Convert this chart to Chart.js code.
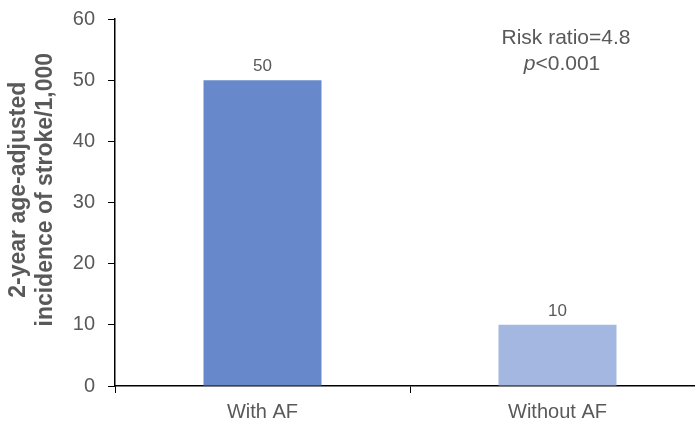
<!DOCTYPE html>
<html>
<head>
<meta charset="utf-8">
<script src="https://cdn.jsdelivr.net/npm/chart.js@4/dist/chart.umd.min.js"></script>
<style>
  html, body { margin: 0; padding: 0; overflow: hidden; background: #fff; }
  #wrap { width: 705px; height: 422px; }
</style>
</head>
<body>
<div id="wrap"><canvas id="strokeChart"></canvas></div>
<script>
var categories = ["With AF", "Without AF"]
var incidence = [50, 10]
var barColors = ["#6789cb", "#a3b7e1"]
var yTicks = [0, 10, 20, 30, 40, 50, 60]
// leading spaces nudge the rotated title up a little, as in the original
var yTitle = ["    2-year age-adjusted", "    incidence of stroke/1,000"]
var noteLines = ["Risk ratio=4.8", "<0.001"]

var gray = "#595959"
var family = "Arial, 'Liberation Sans', sans-serif"

// value labels above bars + risk ratio note
var labelPlugin = {
    id: "labels",
    afterDatasetsDraw: function (chart) {
        var ctx = chart.ctx
        var meta = chart.getDatasetMeta(0)
        ctx.save()
        ctx.fillStyle = gray
        ctx.font = "17px " + family
        ctx.textAlign = "center"
        ctx.textBaseline = "alphabetic"
        for (var i = 0; i < meta.data.length; i++) {
            var bar = meta.data[i]
            ctx.fillText(String(incidence[i]), bar.x, bar.y - 9)
        }

        var cx = 566
        ctx.font = "21px " + family
        ctx.textBaseline = "middle"
        ctx.fillText(noteLines[0], cx, 38)

        ctx.font = "italic 21px " + family
        var pw = ctx.measureText("p").width
        ctx.font = "21px " + family
        var rw = ctx.measureText(noteLines[1]).width
        var start = cx - 4 - (pw + rw) / 2
        ctx.textAlign = "left"
        ctx.font = "italic 21px " + family
        ctx.fillText("p", start, 64)
        ctx.font = "21px " + family
        ctx.fillText(noteLines[1], start + pw, 64)
        ctx.restore()
    }
}

var canvas = document.querySelector("#strokeChart")

var chart = new Chart(canvas, {
    type: "bar",
    data: {
        labels: categories,
        datasets: [{
            data: incidence,
            backgroundColor: barColors,
            borderWidth: 0,
            categoryPercentage: 0.4,
            barPercentage: 1.0
        }]
    },
    options: {
        responsive: true,
        maintainAspectRatio: false,
        animation: false,
        layout: { padding: { top: 19, right: 0, bottom: 0, left: 0 } },
        plugins: {
            legend: { display: false },
            tooltip: { enabled: false }
        },
        scales: {
            x: {
                grid: {
                    display: true,
                    offset: true,
                    drawOnChartArea: false,
                    color: "#000",
                    tickLength: 7
                },
                border: { color: "#000", width: 1.5 },
                ticks: {
                    color: gray,
                    font: { family: family, size: 20 },
                    padding: 7
                },
                afterFit: function (scale) { scale.height = 36 }
            },
            y: {
                min: 0,
                max: 60,
                afterBuildTicks: function (scale) {
                    scale.ticks = yTicks.map(function (v) { return { value: v } })
                },
                grid: {
                    display: true,
                    drawOnChartArea: false,
                    color: "#000",
                    tickLength: 7
                },
                border: { color: "#000", width: 1.5 },
                ticks: {
                    color: gray,
                    font: { family: family, size: 20 },
                    padding: 13
                },
                title: {
                    display: true,
                    text: yTitle,
                    color: gray,
                    font: { family: family, size: 23, weight: "bold", lineHeight: 1.17 },
                    padding: { top: 5, bottom: 0 }
                },
                afterFit: function (scale) {
                    scale.width = 115
                    // tick padding would otherwise push the plot top down
                    scale.paddingTop = 0
                    scale.paddingBottom = 0
                }
            }
        }
    },
    plugins: [labelPlugin]
})
</script>
</body>
</html>
